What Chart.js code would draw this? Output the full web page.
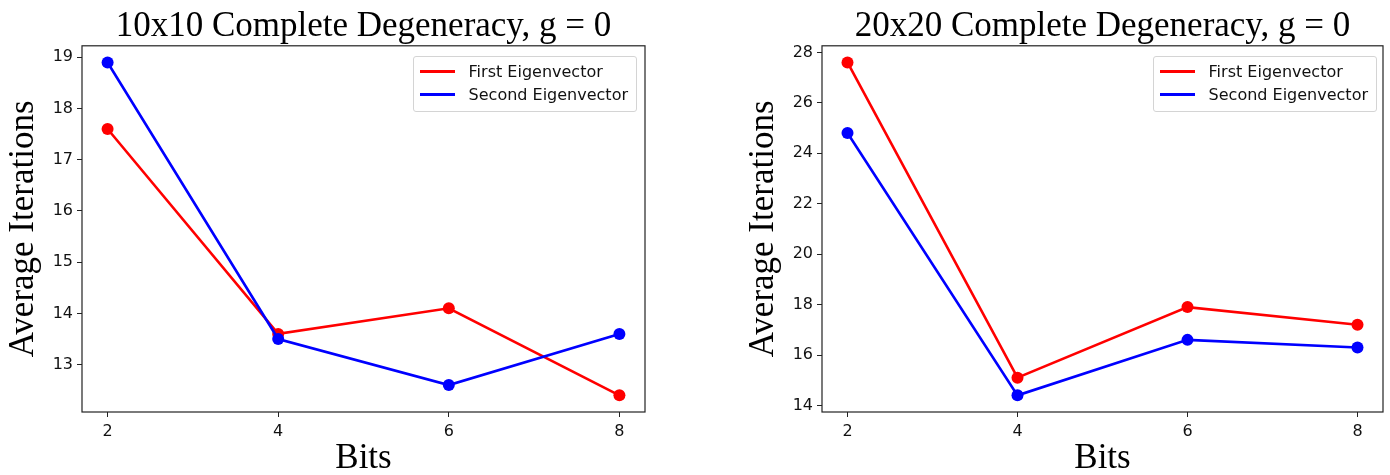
<!DOCTYPE html>
<html><head><meta charset="utf-8">
<script src="https://cdn.jsdelivr.net/npm/chart.js@4.4.0/dist/chart.umd.min.js"></script>
<style>
html,body{margin:0;padding:0;background:#fff;}
#wrap{position:relative;width:1390px;height:475px;overflow:hidden;}
.panel{position:absolute;top:0;width:695px;height:475px;}
.legend{position:absolute;border:1px solid #d4d4d4;border-radius:3px;background:rgba(255,255,255,0.85);padding:3px 8px 5px 6px;font-family:"DejaVu Sans";font-size:16px;color:#111;}
.legend .row{height:23px;display:flex;align-items:center;white-space:nowrap;}
.legend .swatch{width:35px;height:2.5px;margin-right:14px;}
</style></head>
<body>
<div id="wrap">
 <div class="panel" id="p1" style="left:0"><canvas id="c1"></canvas></div>
 <div class="panel" id="p2" style="left:695px"><canvas id="c2"></canvas></div>
</div>
<script>
// ---- data ----
const bits = [2, 4, 6, 8];
const xTicks = [2, 4, 6, 8];
const seriesNames = ['First Eigenvector', 'Second Eigenvector'];
const seriesColors = ['#ff0000', '#0000ff'];

const left_first = [17.6, 13.6, 14.1, 12.4];
const left_second = [18.9, 13.5, 12.6, 13.6];
const left_yTicks = [13, 14, 15, 16, 17, 18, 19];

const right_first = [27.6, 15.1, 17.9, 17.2];
const right_second = [24.8, 14.4, 16.6, 16.3];
const right_yTicks = [14, 16, 18, 20, 22, 24, 26, 28];

const titles = ['10x10 Complete Degeneracy, g = 0', '20x20 Complete Degeneracy, g = 0'];
const xLabel = 'Bits';
const yLabel = 'Average Iterations';

// ---- helpers ----
function limits(vals) {
  const lo = Math.min(...vals), hi = Math.max(...vals), m = (hi - lo) * 0.05;
  return [lo - m, hi + m];
}

const framePlugin = {
  id: 'frame',
  afterDraw(chart) {
    const { ctx, chartArea: a } = chart;
    ctx.save();
    ctx.strokeStyle = '#222';
    ctx.lineWidth = 1.2;
    ctx.strokeRect(a.left, a.top, a.right - a.left, a.bottom - a.top);
    ctx.restore();
  }
};

function makeChart(canvasId, panelId, title, first, second, yTicks, padLeft, padRight, legendGap) {
  const [xmin, xmax] = limits(bits);
  const [ymin, ymax] = limits(first.concat(second));
  const series = [first, second];
  const datasets = series.map((vals, k) => ({
    label: seriesNames[k],
    data: bits.map((b, i) => ({ x: b, y: vals[i] })),
    borderColor: seriesColors[k],
    backgroundColor: seriesColors[k],
    pointBackgroundColor: seriesColors[k],
    borderWidth: 2.6,
    pointRadius: 6,
    pointHoverRadius: 6,
    pointBorderWidth: 0,
    tension: 0,
    order: 1 - k,
    clip: false
  }));
  const chart = new Chart(document.getElementById(canvasId), {
    type: 'line',
    data: { datasets },
    plugins: [framePlugin],
    options: {
      responsive: true,
      maintainAspectRatio: false,
      animation: false,
      events: [],
      layout: { padding: { left: padLeft, right: padRight, top: 0, bottom: 0 } },
      plugins: {
        legend: { display: false },
        tooltip: { enabled: false },
        title: {
          display: true, text: title, fullSize: false,
          font: { family: 'Liberation Serif', size: 35, weight: 'normal', lineHeight: 1.08 },
          color: '#000', padding: { top: 8, bottom: 0 }
        }
      },
      scales: {
        x: {
          type: 'linear', min: xmin, max: xmax,
          afterBuildTicks: s => { s.ticks = xTicks.map(v => ({ value: v })); },
          afterFit: s => { s.height = 63; },
          grid: { drawOnChartArea: false, drawTicks: true, tickLength: 5, color: '#222', tickWidth: 1 },
          border: { display: false },
          ticks: { font: { family: 'DejaVu Sans', size: 16 }, color: '#111', padding: 5, maxRotation: 0, autoSkip: false },
          title: { display: true, text: xLabel, font: { family: 'Liberation Serif', size: 35, lineHeight: 0.9 }, color: '#000', padding: { top: 0, bottom: 0 } }
        },
        y: {
          type: 'linear', min: ymin, max: ymax,
          afterBuildTicks: s => { s.ticks = yTicks.map(v => ({ value: v })); },
          afterFit: s => { s.width = 82; },
          grid: { drawOnChartArea: false, drawTicks: true, tickLength: 5, color: '#222', tickWidth: 1 },
          border: { display: false },
          ticks: { font: { family: 'DejaVu Sans', size: 16 }, color: '#111', padding: 4, autoSkip: false },
          title: { display: true, text: yLabel, font: { family: 'Liberation Serif', size: 35, lineHeight: 1.2 }, color: '#000', padding: { top: 3, bottom: 0 } }
        }
      }
    }
  });
  // HTML legend placed in the upper-right corner of the plot area
  const panel = document.getElementById(panelId);
  const lg = document.createElement('div');
  lg.className = 'legend';
  seriesNames.forEach((n, k) => {
    const row = document.createElement('div');
    row.className = 'row';
    const sw = document.createElement('span');
    sw.className = 'swatch';
    sw.style.background = seriesColors[k];
    const tx = document.createElement('span');
    tx.textContent = n;
    row.appendChild(sw); row.appendChild(tx);
    lg.appendChild(row);
  });
  const a = chart.chartArea;
  lg.style.right = (panel.clientWidth - a.right + legendGap) + 'px';
  lg.style.top = (a.top + 10) + 'px';
  panel.appendChild(lg);
  return chart;
}

makeChart('c1', 'p1', titles[0], left_first, left_second, left_yTicks, 0, 50, 8);
makeChart('c2', 'p2', titles[1], right_first, right_second, right_yTicks, 45, 7, 6);
</script>
</body></html>
